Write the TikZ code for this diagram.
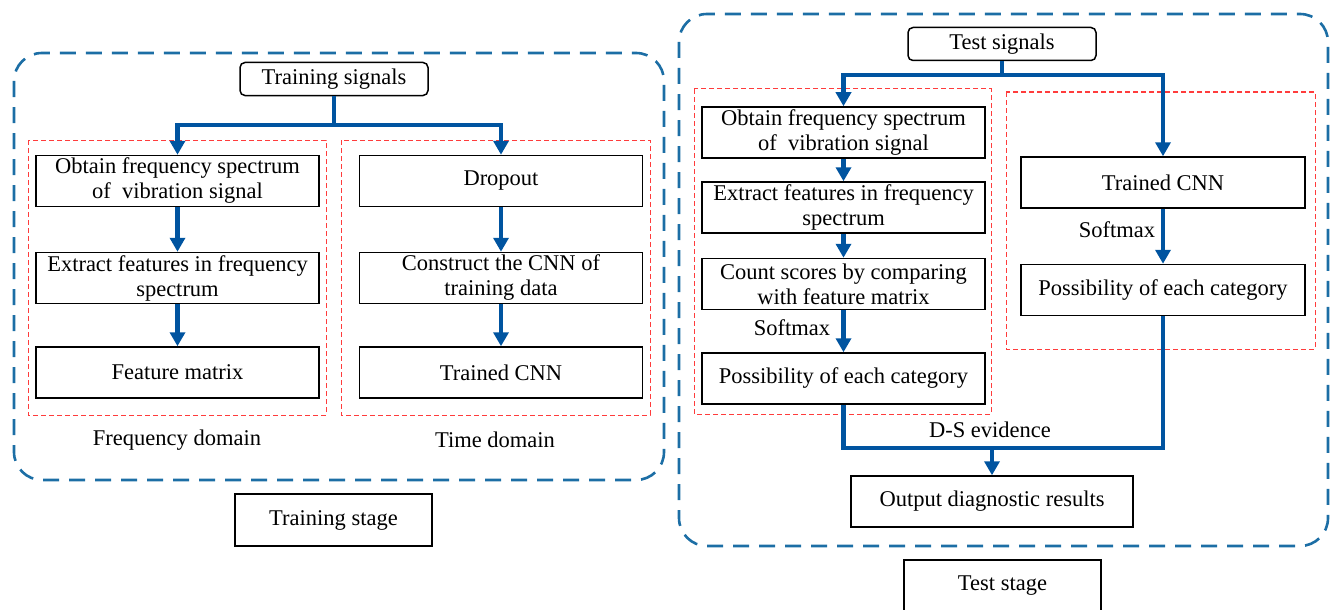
\documentclass[tikz,border=0pt]{standalone}
\usepackage{fontspec}
\setmainfont{Liberation Serif}
\usetikzlibrary{arrows.meta}
\definecolor{flowblue}{RGB}{0,84,160}
\definecolor{stageblue}{RGB}{28,110,165}
\definecolor{domred}{RGB}{255,60,60}
\begin{document}
\begin{tikzpicture}[x=1pt,y=-1pt,
  txt/.style={font=\fontsize{22.5}{25}\selectfont},
  box/.style={txt, draw=black, line width=1.5pt, minimum width=283pt, minimum height=51pt, align=center, inner sep=2pt},
  sigbox/.style={box, rounded corners=5pt, minimum width=188pt, minimum height=33pt},
  stagebox/.style={box, minimum width=197pt, minimum height=52pt},
  stageframe/.style={draw=stageblue, line width=2.6pt, dash pattern=on 16pt off 10pt, rounded corners=28pt},
  domframe/.style={draw=domred, line width=1pt, dash pattern=on 5pt off 3pt},
  flowline/.style={draw=flowblue, line width=4.5pt},
  flowarr/.style={flowline, -{Triangle[length=14pt,width=15pt]}},
  lbl/.style={txt, inner sep=0pt}
]
\useasboundingbox (0,0) rectangle (1331,610);

% frames
\draw[stageframe] (14,53) rectangle (664,480);
\draw[stageframe] (679,14) rectangle (1328,546);
\draw[domframe] (28,140) rectangle (326,415);
\draw[domframe] (341,140) rectangle (650,415);
\draw[domframe] (694,89) rectangle (991,414);
\draw[domframe] (1006,92) rectangle (1315,349);

% training stage
\node[sigbox] (trs) at (334,79) {Training signals};
\node[box] (fo) at (177.5,181) {Obtain frequency spectrum\\of\ \ vibration signal};
\node[box] (fe) at (177.5,278) {Extract features in frequency\\spectrum};
\node[box] (fm) at (177.5,372.5) {Feature matrix};
\node[box] (td) at (501,181) {Dropout};
\node[box] (tc) at (501,278) {Construct the CNN of\\training data};
\node[box] (tt) at (501,372.5) {Trained CNN};
\node[lbl] (fdl) at (177,440) {Frequency domain};
\node[lbl] (tdl) at (495,440) {Time domain};
\node[stagebox] (trst) at (333.5,520) {Training stage};

\coordinate (j1) at (334,125);
\draw[flowline] (trs.south) -- (j1);
\draw[flowarr] (j1) -| (fo.north);
\draw[flowarr] (j1) -| (td.north);
\draw[flowarr] (fo.south) -- (fe.north);
\draw[flowarr] (fe.south) -- (fm.north);
\draw[flowarr] (td.south) -- (tc.north);
\draw[flowarr] (tc.south) -- (tt.north);

% test stage
\node[sigbox] (tes) at (1002,44) {Test signals};
\node[box] (ao) at (843.5,132.5) {Obtain frequency spectrum\\of\ \ vibration signal};
\node[box] (ae) at (843.5,207.5) {Extract features in frequency\\spectrum};
\node[box] (ac) at (843.5,284) {Count scores by comparing\\with feature matrix};
\node[box] (ap) at (843.5,378.5) {Possibility of each category};
\node[box, minimum width=284pt] (bt) at (1163,182.5) {Trained CNN};
\node[box, minimum width=284pt] (bp) at (1163,290) {Possibility of each category};
\node[box, minimum width=282pt] (out) at (992,501.5) {Output diagnostic results};
\node[stagebox] (test) at (1002.5,586) {Test stage};
\node[lbl] (sm1) at (792,328) {Softmax};
\node[lbl] (sm2) at (1117,230) {Softmax};
\node[lbl] (dsl) at (990,430) {D-S evidence};

\coordinate (j2) at (1002,75);
\coordinate (j3) at (992,448);
\draw[flowline] (tes.south) -- (j2);
\draw[flowarr] (j2) -| (ao.north);
\draw[flowarr] (j2) -| (bt.north);
\draw[flowarr] (ao.south) -- (ae.north);
\draw[flowarr] (ae.south) -- (ac.north);
\draw[flowarr] (ac.south) -- (ap.north);
\draw[flowarr] (bt.south) -- (bp.north);
\draw[flowline] (ap.south) |- (j3) -| (bp.south);
\draw[flowarr] (j3) -- (out.north);
\end{tikzpicture}
\end{document}
